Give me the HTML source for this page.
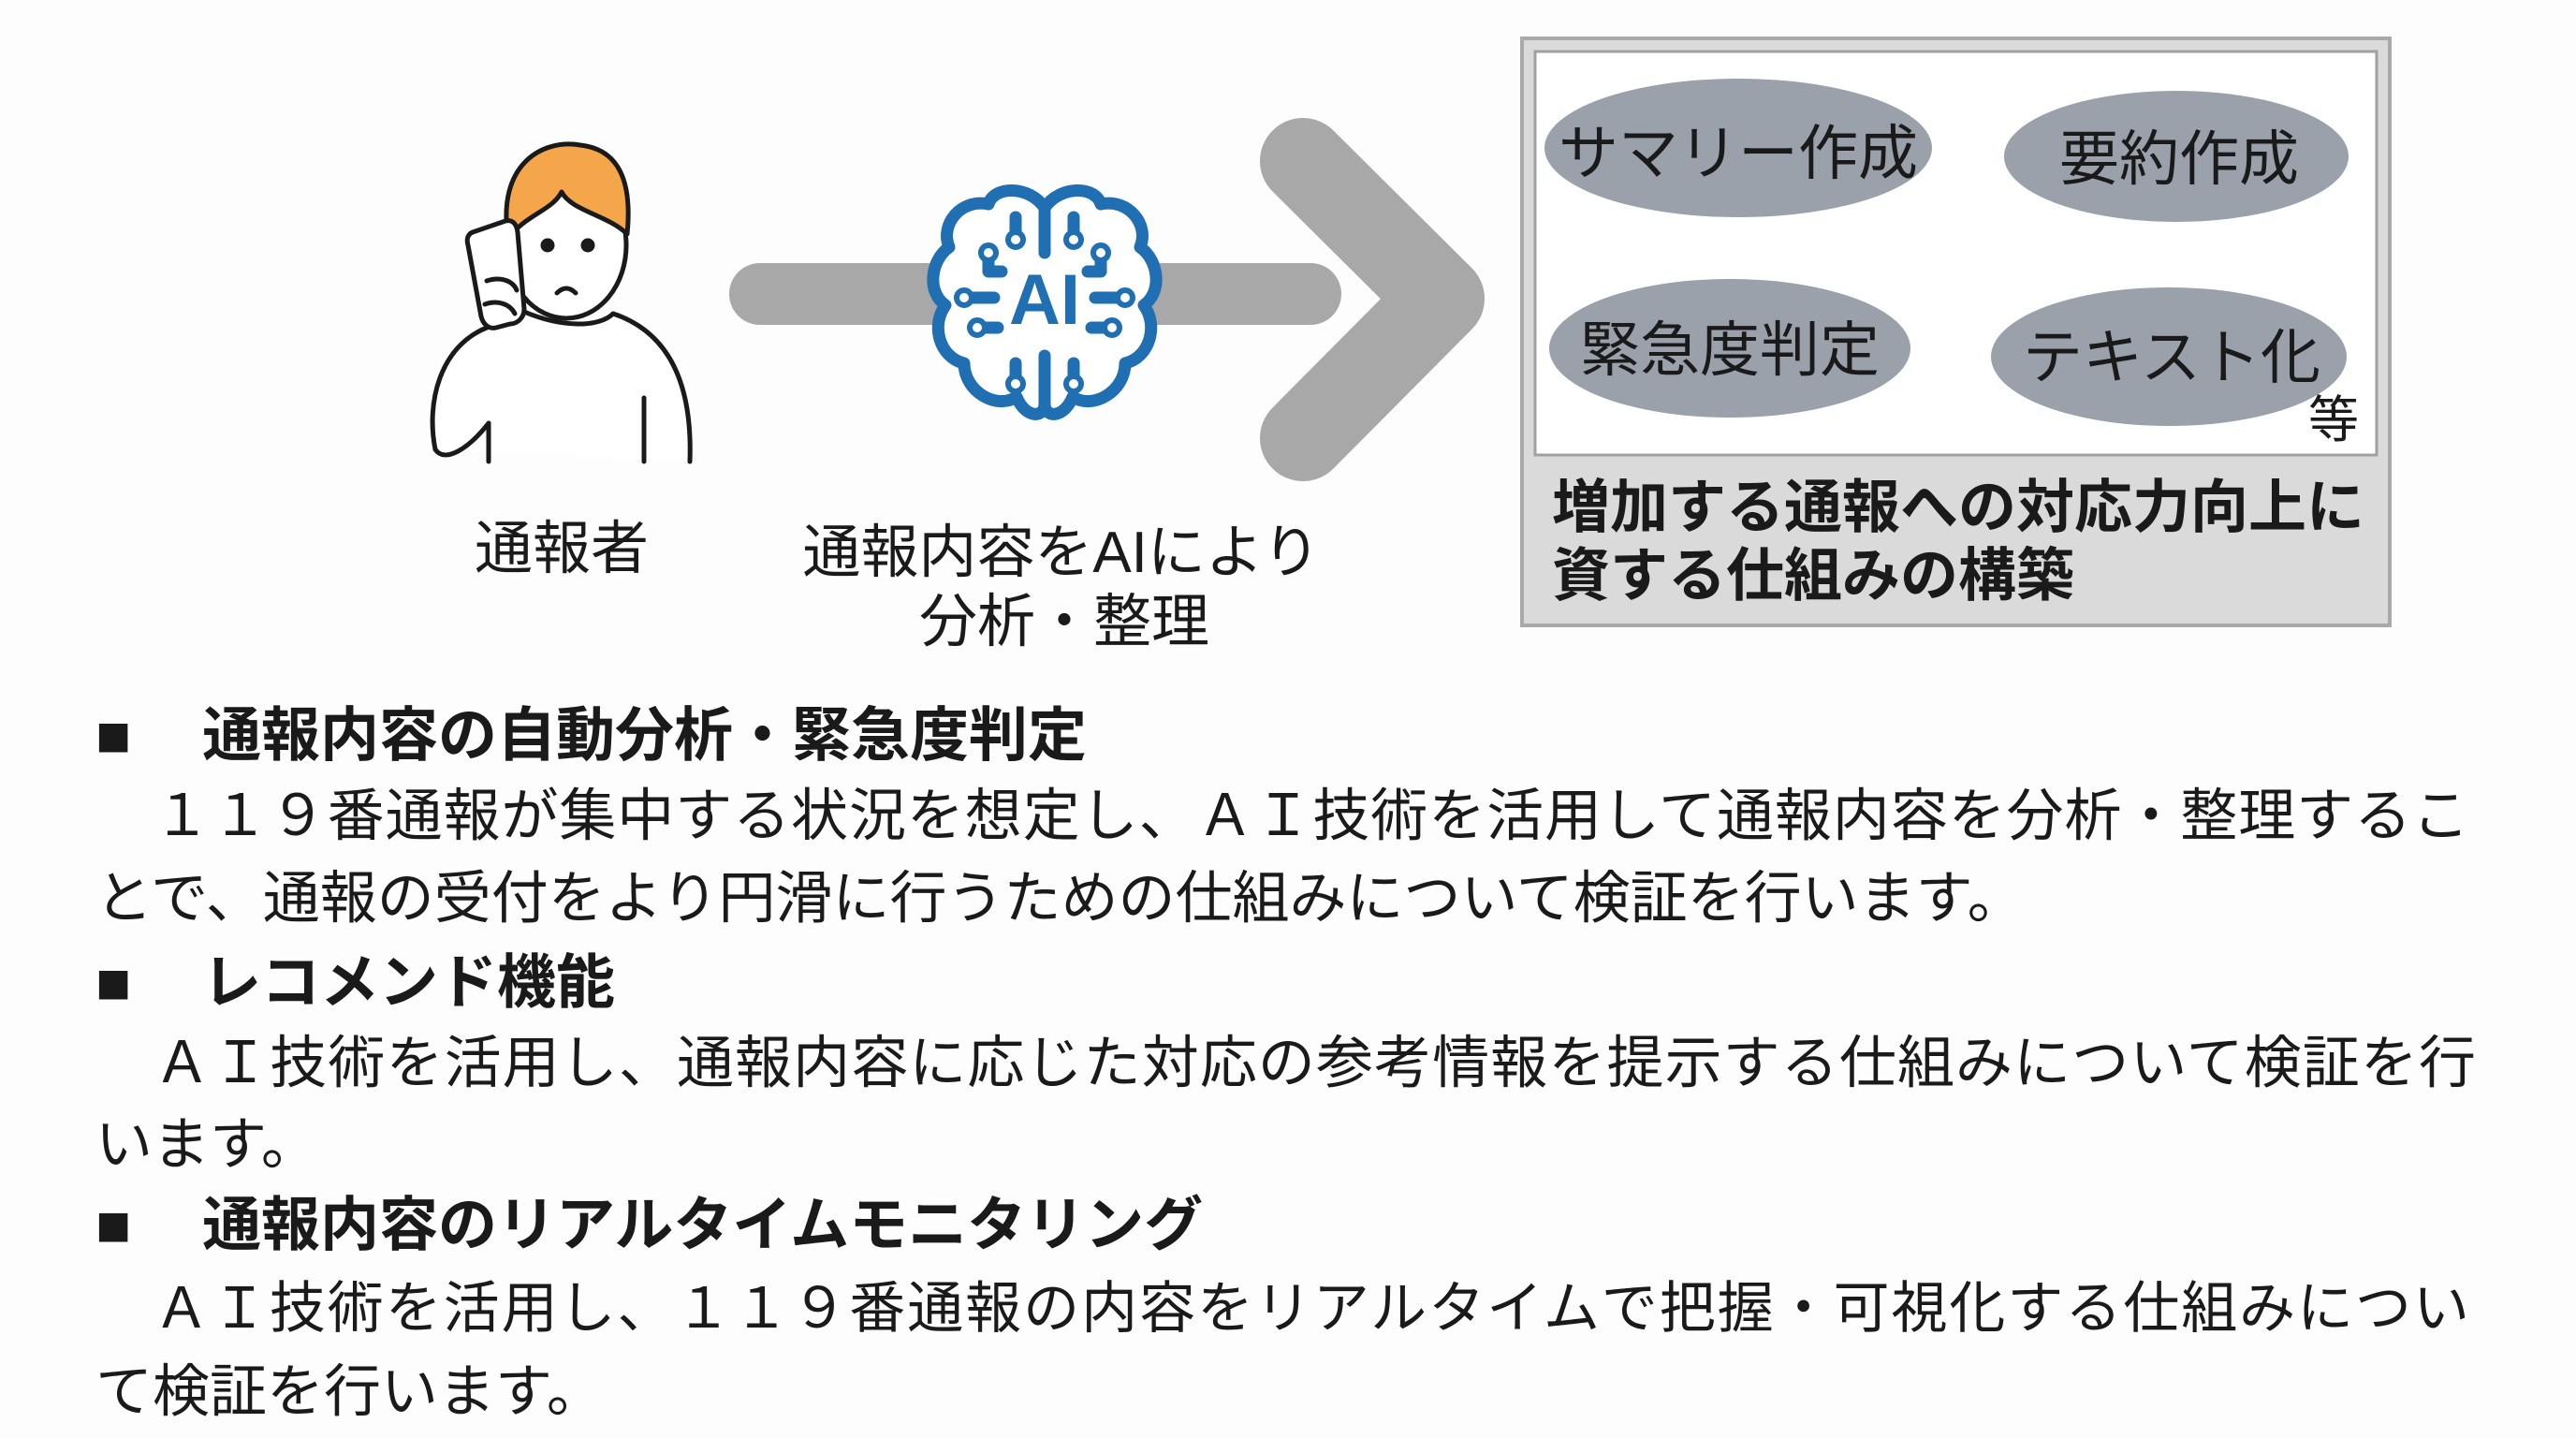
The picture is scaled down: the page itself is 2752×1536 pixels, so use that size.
<!DOCTYPE html>
<html><head><meta charset="utf-8">
<style>
html,body{margin:0;padding:0;}
body{width:2752px;height:1536px;background:#fdfdfd;position:relative;overflow:hidden;font-family:"Liberation Sans","Noto Sans CJK JP",sans-serif;color:#1a1a1a;}
.t{position:absolute;white-space:nowrap;line-height:1;}
.j{text-align:justify;text-align-last:justify;white-space:normal;}
.b{font-weight:bold;}
</style></head><body>
<svg width="2752" height="1536" style="position:absolute;left:0;top:0">
  <line x1="812" y1="314" x2="1400" y2="314" stroke="#a8a8a8" stroke-width="66" stroke-linecap="round"/>
  <polyline points="1392,172 1540,319 1392,468" fill="none" stroke="#a8a8a8" stroke-width="92" stroke-linecap="round" stroke-linejoin="round"/>
  <g stroke="#1f6fb2" stroke-width="13" fill="#fff" stroke-linecap="round" stroke-linejoin="round">
    <path d="M1116,222 C1100,198 1062,198 1056,218 C1026,212 1004,240 1014,264 C994,278 990,312 1010,326 C994,348 1004,382 1030,388 C1030,418 1064,438 1086,424 C1096,448 1116,446 1116,432 C1116,446 1136,448 1146,424 C1168,438 1202,418 1202,388 C1228,382 1238,348 1222,326 C1242,312 1238,278 1218,264 C1228,240 1206,212 1176,218 C1170,198 1132,198 1116,222 Z"/>
    <line x1="1116" y1="222" x2="1116" y2="270" fill="none"/>
    <line x1="1116" y1="380" x2="1116" y2="432" fill="none"/>
    <polyline points="1085,232 1085,250" fill="none"/><polyline points="1147,232 1147,250" fill="none"/>
    <polyline points="1070,290 1056,290 1056,276" fill="none"/><polyline points="1162,290 1176,290 1176,276" fill="none"/>
    <line x1="1036" y1="318" x2="1062" y2="318"/><line x1="1170" y1="318" x2="1196" y2="318"/>
    <polyline points="1050,350 1066,350" fill="none"/><polyline points="1166,350 1182,350" fill="none"/>
    <polyline points="1085,388 1085,404" fill="none"/><polyline points="1147,388 1147,404" fill="none"/>
  </g>
  <g fill="#fff" stroke="#1f6fb2" stroke-width="6">
    <circle cx="1085" cy="256" r="8"/><circle cx="1147" cy="256" r="8"/>
    <circle cx="1056" cy="270" r="8"/><circle cx="1176" cy="270" r="8"/>
    <circle cx="1030" cy="318" r="8"/><circle cx="1202" cy="318" r="8"/>
    <circle cx="1044" cy="350" r="8"/><circle cx="1188" cy="350" r="8"/>
    <circle cx="1085" cy="410" r="8"/><circle cx="1147" cy="410" r="8"/>
  </g>
  <text x="1116" y="346" text-anchor="middle" font-family="Liberation Sans, sans-serif" font-weight="bold" font-size="76" fill="#1f6fb2">AI</text>
  <g stroke="#1a1a1a" stroke-width="5" fill="#fff" stroke-linecap="round" stroke-linejoin="round">
    <path d="M465,480 C455,430 470,370 520,350 L560,333 C600,350 640,350 655,335 C715,355 740,410 737,493"/>
    <line x1="688" y1="425" x2="688" y2="493"/>
    <line x1="522" y1="452" x2="522" y2="493"/>
    <path d="M465,480 C475,495 500,480 522,452" fill="none"/>
    <ellipse cx="605" cy="262" rx="64" ry="78"/>
    <path d="M543,255 C530,175 580,148 620,155 C665,160 675,200 670,250 C650,230 610,225 600,205 C590,225 560,230 543,255 Z" fill="#f5a54a"/>
    <path d="M505,248 L540,236 C548,234 552,240 553,248 L560,330 C560,340 552,346 545,346 L530,350 C522,352 516,346 514,338 L500,262 C498,255 500,250 505,248 Z" fill="#fff"/>
    <path d="M520,300 C535,295 548,300 552,310 M518,325 C532,320 545,325 550,335" fill="none"/>
    <circle cx="585" cy="262" r="5" fill="#1a1a1a"/><circle cx="628" cy="262" r="5" fill="#1a1a1a"/>
    <path d="M595,313 Q605,303 615,313" fill="none"/>
  </g>
  <rect x="1626" y="41" width="927" height="627" fill="#dadada" stroke="#a9a9a9" stroke-width="4"/>
  <rect x="1640" y="55" width="899" height="431" fill="#fff" stroke="#a0a0a0" stroke-width="3"/>
  <g fill="#9aa1aa">
    <ellipse cx="1857" cy="158" rx="207" ry="74"/>
    <ellipse cx="2325" cy="167" rx="184" ry="70"/>
    <ellipse cx="1848" cy="372" rx="193" ry="74"/>
    <ellipse cx="2317" cy="381" rx="190" ry="74"/>
  </g>
</svg>
<div class="t" style="left:1857px;top:132px;font-size:64px;transform:translateX(-50%)">サマリー作成</div>
<div class="t" style="left:2328px;top:138px;font-size:64px;transform:translateX(-50%)">要約作成</div>
<div class="t" style="left:1848px;top:342px;font-size:64px;transform:translateX(-50%)">緊急度判定</div>
<div class="t" style="left:2320px;top:350px;font-size:64px;transform:translateX(-50%)">テキスト化</div>
<div class="t" style="left:2466px;top:422px;font-size:54px;">等</div>
<div class="t b" style="left:1658px;top:512px;font-size:62px;">増加する通報への対応力向上に</div>
<div class="t b" style="left:1658px;top:585px;font-size:62px;">資する仕組みの構築</div>
<div class="t" style="left:600px;top:556px;font-size:62px;transform:translateX(-50%)">通報者</div>
<div class="t" style="left:1134px;top:560px;font-size:62px;transform:translateX(-50%)">通報内容をAIにより</div>
<div class="t" style="left:1137px;top:634px;font-size:62px;transform:translateX(-50%)">分析・整理</div>

<div class="t b" style="left:102px;top:755px;font-size:63px;">■<span style="margin-left:76px">通報内容の自動分析・緊急度判定</span></div>
<div class="t j" style="left:102px;top:841px;width:2536px;font-size:61px;">　１１９番通報が集中する状況を想定し、ＡＩ技術を活用して通報内容を分析・整理するこ</div>
<div class="t" style="left:102px;top:929px;font-size:61px;">とで、通報の受付をより円滑に行うための仕組みについて検証を行います。</div>
<div class="t b" style="left:102px;top:1019px;font-size:63px;">■<span style="margin-left:76px">レコメンド機能</span></div>
<div class="t j" style="left:102px;top:1105px;width:2543px;font-size:61px;">　ＡＩ技術を活用し、通報内容に応じた対応の参考情報を提示する仕組みについて検証を行</div>
<div class="t" style="left:102px;top:1192px;font-size:61px;">います。</div>
<div class="t b" style="left:102px;top:1278px;font-size:63px;">■<span style="margin-left:76px">通報内容のリアルタイムモニタリング</span></div>
<div class="t j" style="left:102px;top:1368px;width:2536px;font-size:60px;">　ＡＩ技術を活用し、１１９番通報の内容をリアルタイムで把握・可視化する仕組みについ</div>
<div class="t" style="left:102px;top:1456px;font-size:61px;">て検証を行います。</div>
</body></html>
